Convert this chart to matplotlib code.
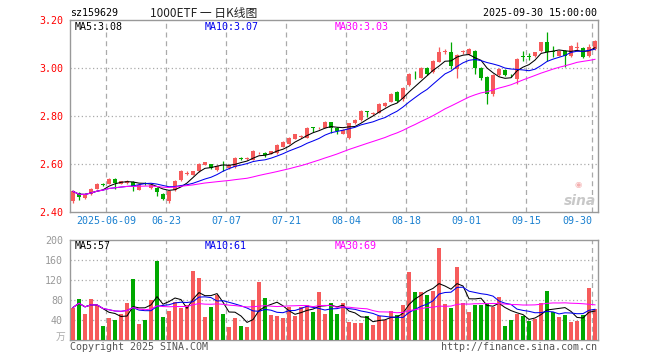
import numpy as np
import pandas as pd
import matplotlib
matplotlib.use("Agg")
import matplotlib.pyplot as plt

plt.rcParams['font.family'] = ['DejaVu Sans Mono', 'Noto Sans CJK SC']

# daily candles, 2025-05-29 .. 2025-09-30
opens = [2.444, 2.479, 2.459, 2.476, 2.497, 2.516, 2.518, 2.538, 2.518, 2.521,
         2.525, 2.493, 2.519, 2.500, 2.500, 2.476, 2.444, 2.490, 2.532, 2.560,
         2.556, 2.569, 2.596, 2.598, 2.574, 2.596, 2.584, 2.588, 2.625, 2.621,
         2.618, 2.644, 2.646, 2.642, 2.646, 2.672, 2.685, 2.706, 2.712, 2.709,
         2.752, 2.748, 2.751, 2.775, 2.751, 2.727, 2.709, 2.769, 2.782, 2.818,
         2.807, 2.814, 2.841, 2.860, 2.900, 2.869, 2.928, 2.971, 2.960, 3.002,
         2.984, 3.026, 3.066, 3.065, 2.995, 3.066, 3.058, 3.072, 3.002, 2.964,
         2.890, 2.970, 2.992, 2.971, 2.953, 3.049, 3.049, 3.048, 3.072, 3.107,
         3.069, 3.051, 3.072, 3.051, 3.084, 3.083, 3.051, 3.079]
closes = [2.486, 2.462, 2.472, 2.497, 2.517, 2.513, 2.539, 2.521, 2.528, 2.531,
          2.507, 2.514, 2.517, 2.511, 2.482, 2.455, 2.486, 2.531, 2.569, 2.563,
          2.569, 2.602, 2.607, 2.584, 2.593, 2.594, 2.595, 2.626, 2.622, 2.624,
          2.653, 2.647, 2.636, 2.653, 2.681, 2.691, 2.709, 2.723, 2.718, 2.751,
          2.750, 2.752, 2.776, 2.751, 2.737, 2.741, 2.769, 2.783, 2.820, 2.816,
          2.812, 2.849, 2.856, 2.890, 2.862, 2.918, 2.974, 2.969, 3.002, 2.974,
          3.030, 3.065, 3.070, 3.009, 3.054, 3.069, 3.079, 3.002, 2.957, 2.893,
          2.970, 2.995, 2.970, 2.969, 3.037, 3.047, 3.047, 3.065, 3.107, 3.065,
          3.067, 3.072, 3.048, 3.093, 3.087, 3.044, 3.086, 3.113]
highs = [2.490, 2.482, 2.480, 2.500, 2.520, 2.520, 2.543, 2.541, 2.530, 2.535,
         2.528, 2.517, 2.523, 2.515, 2.503, 2.478, 2.488, 2.534, 2.573, 2.570,
         2.572, 2.605, 2.610, 2.602, 2.597, 2.611, 2.600, 2.630, 2.630, 2.630,
         2.657, 2.652, 2.650, 2.656, 2.684, 2.695, 2.712, 2.726, 2.722, 2.754,
         2.753, 2.756, 2.780, 2.777, 2.753, 2.745, 2.772, 2.787, 2.824, 2.822,
         2.816, 2.853, 2.860, 2.894, 2.903, 2.922, 2.978, 2.988, 3.006, 3.005,
         3.034, 3.086, 3.079, 3.107, 3.058, 3.075, 3.083, 3.075, 3.005, 2.967,
         2.974, 2.998, 2.995, 2.976, 3.040, 3.070, 3.062, 3.068, 3.110, 3.149,
         3.090, 3.075, 3.075, 3.096, 3.108, 3.086, 3.100, 3.117]
lows = [2.437, 2.452, 2.455, 2.470, 2.494, 2.510, 2.515, 2.495, 2.515, 2.518,
        2.486, 2.490, 2.512, 2.497, 2.465, 2.452, 2.438, 2.488, 2.530, 2.555,
        2.553, 2.567, 2.594, 2.578, 2.572, 2.569, 2.580, 2.585, 2.615, 2.618,
        2.615, 2.640, 2.630, 2.640, 2.643, 2.670, 2.682, 2.703, 2.709, 2.707,
        2.733, 2.745, 2.748, 2.730, 2.723, 2.724, 2.705, 2.766, 2.779, 2.794,
        2.804, 2.811, 2.838, 2.857, 2.859, 2.862, 2.925, 2.953, 2.957, 2.970,
        2.980, 3.023, 3.057, 2.995, 2.960, 3.060, 3.055, 2.974, 2.950, 2.849,
        2.885, 2.967, 2.965, 2.962, 2.935, 3.030, 3.035, 3.045, 3.068, 3.030,
        3.045, 3.048, 3.005, 3.045, 3.070, 3.040, 3.045, 3.075]
volumes = [65, 82, 52, 82, 70, 28, 45, 40, 52, 75,
           122, 32, 41, 81, 158, 46, 58, 77, 65, 70,
           138, 124, 46, 66, 90, 52, 26, 44, 28, 26,
           80, 116, 84, 50, 48, 44, 67, 48, 67, 70,
           57, 96, 52, 74, 52, 74, 37, 34, 34, 48,
           30, 49, 41, 58, 50, 70, 136, 96, 96, 90,
           98, 184, 72, 64, 146, 74, 56, 71, 71, 74,
           66, 86, 28, 40, 52, 48, 38, 42, 74, 98,
           56, 46, 50, 36, 38, 50, 104, 62]

tick_dates = ['2025-06-09', '2025-06-23', '2025-07-07', '2025-07-21', '2025-08-04',
              '2025-08-18', '2025-09-01', '2025-09-15', '2025-09-30']
tick_labels = ['2025-06-09', '06-23', '07-07', '07-21', '08-04',
               '08-18', '09-01', '09-15', '09-30']
price_ticks = [2.40, 2.60, 2.80, 3.00, 3.20]
vol_ticks = [40, 80, 120, 160, 200]
price_ma_text = ['MA5:3.08', 'MA10:3.07', 'MA30:3.03']
vol_ma_text = ['MA5:57', 'MA10:61', 'MA30:69']

dates = pd.bdate_range('2025-05-29', '2025-09-30')
dates = dates[dates != pd.Timestamp('2025-06-02')]  # Dragon Boat holiday

RED = '#f65b5b'
GREEN = '#00a800'
GRID = '#aaaaaa'
ma_colors = ['black', '#0000ee', '#ff00ff']

df = pd.DataFrame({'o': opens, 'h': highs, 'l': lows, 'c': closes, 'v': volumes})
x = np.arange(len(df))
up = df['c'] >= df['o']
colors = np.where(up, RED, GREEN)
tick_pos = [dates.get_loc(pd.Timestamp(d)) - 0.5 for d in tick_dates]

fig = plt.figure(figsize=(6.6, 3.6), dpi=100)
W, H = 660, 360
ax = fig.add_axes([70 / W, 1 - 212 / H, 528 / W, 192 / H])
axv = fig.add_axes([70 / W, 1 - 340 / H, 528 / W, 100 / H])

for a in (ax, axv):
    a.set_xlim(-0.5, len(df) - 0.5)
    for s in a.spines.values():
        s.set_color('#999999')
        s.set_linewidth(1)
    for p in tick_pos:
        a.axvline(p, color=GRID, lw=0.9, ls=(0, (4, 3)), zorder=0)
    a.tick_params(length=0, labelsize=7.2)

# candles
ax.vlines(x, df['l'], df['h'], colors=colors, lw=0.9, zorder=2)
body = np.maximum((df['c'] - df['o']).abs(), 0.003)
ax.bar(x, body, bottom=np.minimum(df['o'], df['c']), width=0.8,
       color=colors, lw=0, zorder=3)

for n, col in zip([5, 10, 30], ma_colors):
    ax.plot(x, df['c'].rolling(n, min_periods=1).mean(), color=col, lw=0.75, zorder=4)
    axv.plot(x, df['v'].rolling(n, min_periods=1).mean(), color=col, lw=0.75, zorder=4)

ax.set_ylim(2.40, 3.20)
ax.set_yticks(price_ticks)
ax.set_yticklabels(['%.2f' % p for p in price_ticks], color='red')
for p in price_ticks[1:-1]:
    ax.axhline(p, color=GRID, lw=0.9, ls=(0, (1, 2)), zorder=0)
ax.set_xticks(tick_pos)
ax.set_xticklabels(tick_labels, color='#1a80d0')
ax.get_xticklabels()[-1].set_ha('right')
ax.tick_params(axis='y', pad=5)
ax.tick_params(axis='x', pad=3)

axv.bar(x, df['v'], width=0.8, color=colors, lw=0, zorder=3)
axv.set_ylim(0, 200)
axv.set_yticks(vol_ticks)
axv.set_yticklabels([str(v) for v in vol_ticks], color='#999999')
axv.tick_params(axis='y', pad=5)
axv.set_xticks([])
for v in vol_ticks[:-1]:
    axv.axhline(v, color=GRID, lw=0.9, ls=(0, (1, 2)), zorder=0)

# legend texts
for t, col, px in zip(price_ma_text, ma_colors, [75, 205, 335]):
    fig.text(px / W, 1 - 27 / H, t, color=col, fontsize=7.2, va='center')
for t, col, px in zip(vol_ma_text, ma_colors, [75, 205, 335]):
    fig.text(px / W, 1 - 246 / H, t, color=col, fontsize=7.2, va='center')

fig.text(70 / W, 1 - 13 / H, 'sz159629', fontsize=7.2, va='center')
fig.text(150 / W, 1 - 13 / H, '1000ETF 一 日K线图', fontsize=8.5, va='center',
         family=['Noto Sans CJK SC', 'DejaVu Sans'], color='#222222')
fig.text(597 / W, 1 - 13 / H, '2025-09-30 15:00:00', fontsize=7.2, va='center', ha='right')
fig.text(65 / W, 1 - 337 / H, '万', fontsize=7, va='center', ha='right', color='#aaaaaa',
         family=['Noto Sans CJK SC'])
fig.text(70 / W, 1 - 347 / H, 'Copyright 2025 SINA.COM', fontsize=7.2, va='center', color='#555555')
fig.text(597 / W, 1 - 347 / H, 'http://finance.sina.com.cn', fontsize=7.2, va='center',
         ha='right', color='#555555')
fig.text(596 / W, 1 - 201 / H, 'sina', fontsize=10, va='center', ha='right', color='#c8c8c8',
         style='italic', weight='bold', family='DejaVu Sans')
fig.text(578 / W, 1 - 184 / H, '◉', fontsize=6, va='center', ha='center', color='#f4b0b0',
         family='DejaVu Sans')

fig.savefig('out.png', dpi=100)
